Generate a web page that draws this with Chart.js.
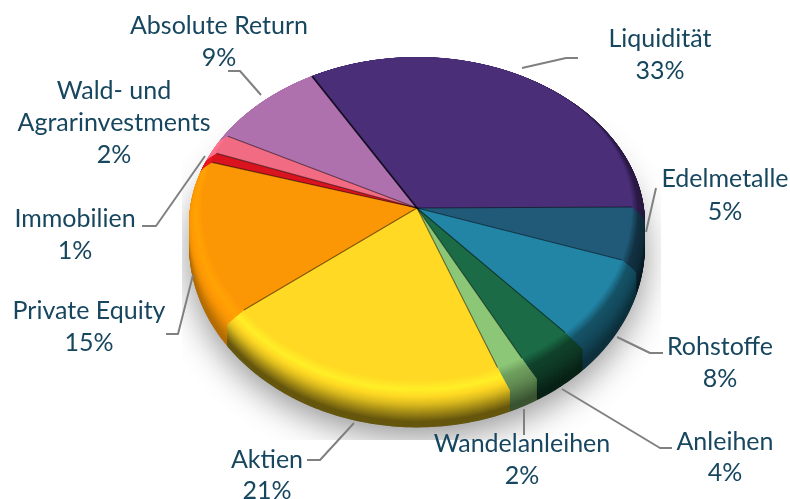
<!DOCTYPE html>
<html><head><meta charset="utf-8">
<style>html,body{margin:0;padding:0;background:#fff}canvas{display:block}</style>
<script src="https://cdn.jsdelivr.net/npm/chart.js@4"></script>
</head><body><canvas id="c" width="790" height="499"></canvas>
<script>
const categories = ["Liquidität","Edelmetalle","Rohstoffe","Anleihen","Wandelanleihen","Aktien","Private Equity","Immobilien","Wald- und Agrarinvestments","Absolute Return"];
const shares = [33,5,8,4,2,21,15,1,2,9];
const colors = ["#4a2e78","#215a78","#2385a6","#1b6b46","#8cc777","#ffd924","#fb9705","#d9141f","#f16b82","#af71ae"];
const rimShade = [0.35,0.3,0.36,0.32,0.42,0.4,0.72,0.6,0.7,0.6];
const rimGlow = [0.6,0.55,0.62,0.62,0.8,1.1,1.08,1.1,1.1,1];

const RX=215, KB=151/215, KF=172/215, DEPTH=37, BEVEL=16, FLARE=13, FAN=3*Math.PI/180;
const labelLayout=[
 {lines:["Absolute Return","9%"],x:219,y:[25,57],lead:[[228,71],[240,71],[261,95]]},
 {lines:["Liquidität","33%"],x:660,y:[38,70],lead:[[522,68],[566,58],[578,58]]},
 {lines:["Edelmetalle","5%"],x:725,y:[178,211],lead:[[656,188],[646,232]]},
 {lines:["Rohstoffe","8%"],x:720,y:[346,378],lead:[[617,337],[650,353],[663,353]]},
 {lines:["Anleihen","4%"],x:725,y:[441,472],lead:[[562,389],[660,448],[672,448]]},
 {lines:["Wandelanleihen","2%"],x:522,y:[443,475],lead:[[524,409],[524,435]]},
 {lines:["Aktien","21%"],x:267,y:[459,490],lead:[[354,423],[320,460],[307,460]]},
 {lines:["Private Equity","15%"],x:89,y:[310,342],lead:[[193,275],[178,334],[166,334]]},
 {lines:["Immobilien","1%"],x:75,y:[218,250],lead:[[205,156],[156,226],[142,226]]},
 {lines:["Wald- und","Agrarinvestments","2%"],x:114,y:[90,122,154],lead:[]}
];
function rgb(h){return [1,3,5].map(i=>parseInt(h.substr(i,2),16));}
function scaleCol(h,f){return 'rgb('+rgb(h).map(v=>Math.min(255,Math.round(v*f))).join(',')+')';}
function lerp(a,b,t){return a+(b-a)*t;}
function rimFactor(u,shade,glow){
  if(u<0.14) return lerp(1,glow,u/0.14);
  if(u<0.85) return lerp(glow,shade,(u-0.14)/0.71);
  return shade;
}
function tracePoint(ctx,cx,cy,R,a,first){
  const s=Math.sin(a);
  const x=cx+R*Math.cos(a), y=cy+R*s*(s<0?KB:KF);
  first?ctx.moveTo(x,y):ctx.lineTo(x,y);
}
function fanned(a,d){
  const n=((a%(2*Math.PI))+2*Math.PI)%(2*Math.PI);
  if(n>=Math.PI) return a;
  return a+FAN*Math.min(1,d/BEVEL)*Math.sin(2*(n-Math.PI/2));
}
function sliceLayer(ctx,arc,d,e){
  const cx=arc.x, cy=arc.y+d, R=RX+e;
  ctx.beginPath(); ctx.moveTo(cx,arc.y+d);
  const n=Math.max(8,Math.ceil((arc.endAngle-arc.startAngle)*60));
  for(let i=0;i<=n;i++) tracePoint(ctx,cx,cy,R,fanned(lerp(arc.startAngle,arc.endAngle,i/n),d),false);
  ctx.closePath(); ctx.fill();
}
const piePlugin={
  id:'tiltedPie',
  beforeDatasetDraw(chart,args){
    const ctx=chart.ctx, meta=args.meta, arcs=meta.data;
    const cx=arcs[0].x, cy=arcs[0].y, r=arcs[0].outerRadius, sx=RX/r;
    ctx.save();
    ctx.beginPath(); ctx.rect(182,120,479,320); ctx.clip();
    ctx.shadowColor='rgba(0,0,0,0.42)'; ctx.shadowBlur=34; ctx.shadowOffsetX=0; ctx.shadowOffsetY=10;
    ctx.fillStyle='#888';
    ctx.beginPath();
    for(let i=0;i<=240;i++) tracePoint(ctx,cx,cy+DEPTH,RX+FLARE,i/240*Math.PI*2,i===0);
    ctx.closePath(); ctx.fill();
    ctx.restore();
    for(let d=DEPTH;d>=0;d-=0.5){
      const e=d>=BEVEL?FLARE:FLARE*Math.sin(d/BEVEL*Math.PI/2);
      const u=d/DEPTH;
      arcs.forEach((arc,i)=>{
        ctx.fillStyle=scaleCol(colors[i],rimFactor(u,rimShade[i],rimGlow[i]));
        sliceLayer(ctx,arc,d,e);
      });
    }
    [[KB,cy-300,300],[KF,cy,300]].forEach(([k,top,h])=>{
      ctx.save();
      ctx.beginPath(); ctx.rect(0,top,790,h); ctx.clip();
      ctx.translate(cx,cy); ctx.scale(sx,k*sx); ctx.translate(-cx,-cy);
      meta.controller.draw();
      ctx.restore();
    });
    arcs.forEach((arc,i)=>{
      ctx.beginPath();
      ctx.moveTo(cx,cy);
      tracePoint(ctx,cx,cy,RX,arc.startAngle,false);
      ctx.lineWidth=i===0?1.8:1.1;
      ctx.strokeStyle=i===0?'rgba(10,5,25,0.9)':'rgba(0,0,0,0.5)';
      ctx.stroke();
    });
    return false;
  },
  afterDraw(chart){
    const ctx=chart.ctx;
    ctx.save();
    ctx.strokeStyle='#808080'; ctx.lineWidth=2; ctx.lineJoin='round';
    labelLayout.forEach(l=>{
      if(!l.lead.length) return;
      ctx.beginPath();
      l.lead.forEach((p,i)=>i?ctx.lineTo(p[0],p[1]):ctx.moveTo(p[0],p[1]));
      ctx.stroke();
    });
    ctx.fillStyle='#17465f';
    ctx.font='25px Lato';
    ctx.textAlign='center'; ctx.textBaseline='middle';
    labelLayout.forEach(l=>l.lines.forEach((t,i)=>ctx.fillText(t,l.x,l.y[i]+1)));
    ctx.restore();
  }
};
new Chart(document.getElementById('c'),{
  type:'pie',
  data:{labels:categories,datasets:[{data:shares,backgroundColor:colors,borderWidth:0}]},
  options:{
    responsive:false,animation:false,rotation:-29.2,
    layout:{padding:{left:209,right:165,top:0,bottom:83}},
    plugins:{legend:{display:false},tooltip:{enabled:false}}
  },
  plugins:[piePlugin]
});
</script></body></html>
